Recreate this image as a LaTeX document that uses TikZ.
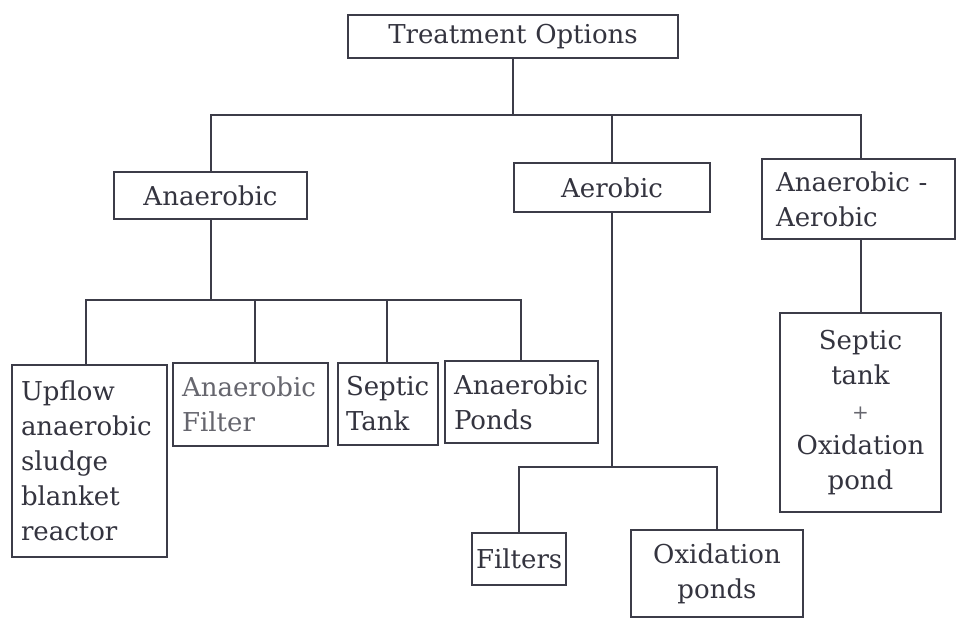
\documentclass[tikz,border=0pt]{standalone}
\usepackage{fontspec}
\setmainfont{DejaVu Serif}
\begin{document}
\begin{tikzpicture}[x=1pt,y=-1pt,
  every node/.style={font=\fontsize{26}{35}\selectfont, text=inkc},
  box/.style={draw=linec, line width=1.4pt, inner ysep=0pt, inner xsep=10pt},
  lbox/.style={box, align=left},
  cbox/.style={box, align=center},
  conn/.style={draw=linec, line width=1.4pt}]
\definecolor{inkc}{HTML}{34343F}
\definecolor{linec}{HTML}{3C3C48}
\definecolor{lightink}{HTML}{66666E}
\useasboundingbox[fill=white] (0,0) rectangle (956,620);

\node[cbox, minimum width=330, minimum height=43, text width=310] (top) at (513,36.5) {Treatment Options};
\node[cbox, minimum width=193, minimum height=47, text width=173] (ana) at (210.5,195.5) {Anaerobic};
\node[cbox, minimum width=196, minimum height=49, text width=176] (aer) at (612,187.5) {Aerobic};
\node[lbox, minimum width=193, minimum height=80, text width=165, inner xsep=14pt] (anaer) at (858.5,199) {Anaerobic -\\Aerobic};

\node[lbox, minimum width=155, minimum height=192, text width=137, inner xsep=9pt] (up) at (89.5,461) {Upflow\\anaerobic\\sludge\\blanket\\reactor};
\node[lbox, minimum width=155, minimum height=83, text width=137, inner xsep=9pt, text=lightink] (afilt) at (250.5,404.5) {Anaerobic\\Filter};
\node[lbox, minimum width=100, minimum height=82, text width=84, inner xsep=8pt] (stank) at (388,404) {Septic\\Tank};
\node[lbox, minimum width=153, minimum height=82, text width=135, inner xsep=9pt] (apond) at (521.5,402) {Anaerobic\\Ponds};

\node[cbox, minimum width=94, minimum height=52, text width=86, inner xsep=4pt] (filt) at (519,559) {Filters};
\node[cbox, minimum width=172, minimum height=87, text width=152] (oxp) at (717,573.5) {Oxidation\\ponds};
\node[cbox, minimum width=161, minimum height=199, text width=141] (stox) at (860.5,412.5) {Septic\\tank\\{\fontsize{20}{35}\selectfont\color{lightink}+}\\Oxidation\\pond};

% level 1 connectors
\coordinate (j1) at (513,115);
\draw[conn] (top.south) -- (j1);
\draw[conn] ([xshift=0.5pt]ana.north) -- ([xshift=0.5pt]ana.north |- j1) -- ([xshift=2.5pt]anaer.north |- j1) -- ([xshift=2.5pt]anaer.north);
\draw[conn] (aer.north) -- (aer.north |- j1);

% anaerobic branch
\coordinate (j2) at (211,300);
\draw[conn] ([xshift=0.5pt]ana.south) -- ([xshift=0.5pt]ana.south |- j2);
\draw[conn] ([xshift=-3.5pt]up.north) -- ([xshift=-3.5pt]up.north |- j2) -- ([xshift=-0.5pt]apond.north |- j2) -- ([xshift=-0.5pt]apond.north);
\draw[conn] ([xshift=4.5pt]afilt.north) -- ([xshift=4.5pt]afilt.north |- j2);
\draw[conn] ([xshift=-1pt]stank.north) -- ([xshift=-1pt]stank.north |- j2);

% aerobic branch
\coordinate (j3) at (612,467);
\draw[conn] (aer.south) -- (j3);
\draw[conn] (filt.north) -- (filt.north |- j3) -- (oxp.north |- j3) -- (oxp.north);

% anaerobic-aerobic branch
\draw[conn] ([xshift=2.5pt]anaer.south) -- ([xshift=2.5pt]anaer.south |- stox.north);
\end{tikzpicture}
\end{document}
